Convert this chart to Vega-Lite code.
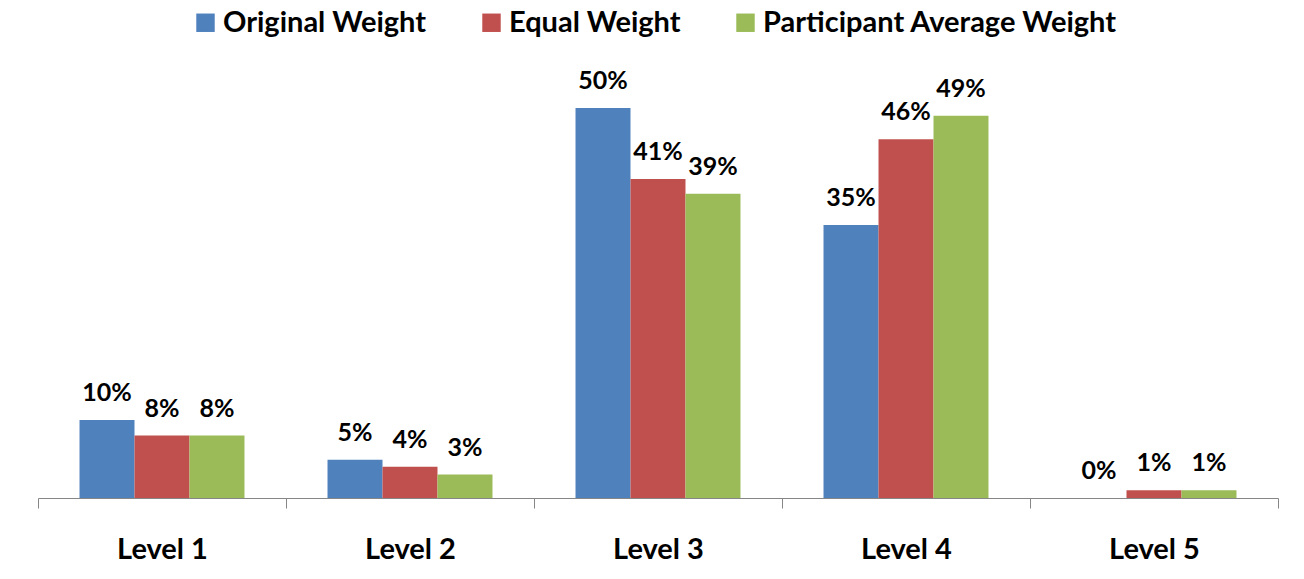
{
  "$schema": "https://vega.github.io/schema/vega-lite/v6.json",
  "width": 1240,
  "height": 468,
  "autosize": {"type": "none"},
  "padding": {"left": 38, "top": 30, "right": 26, "bottom": 81},
  "background": "white",
  "config": {"font": "Lato", "view": {"stroke": null}},
  "data": {
    "values": [
      {"level": "Level 1", "series": "Original Weight", "value": 0.10},
      {"level": "Level 1", "series": "Equal Weight", "value": 0.08},
      {"level": "Level 1", "series": "Participant Average Weight", "value": 0.08},
      {"level": "Level 2", "series": "Original Weight", "value": 0.049},
      {"level": "Level 2", "series": "Equal Weight", "value": 0.04},
      {"level": "Level 2", "series": "Participant Average Weight", "value": 0.03},
      {"level": "Level 3", "series": "Original Weight", "value": 0.50},
      {"level": "Level 3", "series": "Equal Weight", "value": 0.409},
      {"level": "Level 3", "series": "Participant Average Weight", "value": 0.39},
      {"level": "Level 4", "series": "Original Weight", "value": 0.35},
      {"level": "Level 4", "series": "Equal Weight", "value": 0.46},
      {"level": "Level 4", "series": "Participant Average Weight", "value": 0.49},
      {"level": "Level 5", "series": "Original Weight", "value": 0.0},
      {"level": "Level 5", "series": "Equal Weight", "value": 0.01},
      {"level": "Level 5", "series": "Participant Average Weight", "value": 0.01}
    ]
  },
  "encoding": {
    "x": {
      "field": "level", "type": "nominal",
      "scale": {"paddingInner": 0, "paddingOuter": 0},
      "axis": {
        "title": null, "labelAngle": 0, "tickBand": "extent",
        "domainColor": "#868686", "tickColor": "#868686", "tickSize": 10,
        "labelFontSize": 29, "labelFontWeight": "bold", "labelColor": "#000000",
        "labelPadding": 27
      }
    },
    "xOffset": {
      "field": "series", "type": "nominal",
      "scale": {"domain": ["Original Weight", "Equal Weight", "Participant Average Weight"], "paddingOuter": 0.755, "paddingInner": 0}
    },
    "y": {
      "field": "value", "type": "quantitative",
      "scale": {"domain": [0, 0.6]},
      "axis": null
    }
  },
  "layer": [
    {
      "mark": {"type": "bar"},
      "encoding": {
        "color": {
          "field": "series", "type": "nominal",
          "scale": {"domain": ["Original Weight", "Equal Weight", "Participant Average Weight"], "range": ["#4F81BD", "#C0504D", "#9BBB59"]},
          "legend": {
            "title": null, "orient": "none", "legendX": 153, "legendY": -22,
            "direction": "horizontal", "symbolType": "square", "symbolSize": 340,
            "symbolStrokeWidth": 0, "labelFontSize": 29, "labelFontWeight": "bold",
            "labelColor": "#000000", "columnPadding": 50, "labelOffset": 3, "labelLimit": 0
          }
        }
      }
    },
    {
      "mark": {"type": "text", "baseline": "middle", "dy": -27, "fontSize": 25, "fontWeight": "bold", "color": "#000000"},
      "encoding": {
        "text": {"field": "value", "type": "quantitative", "format": ".0%"}
      }
    }
  ]
}
